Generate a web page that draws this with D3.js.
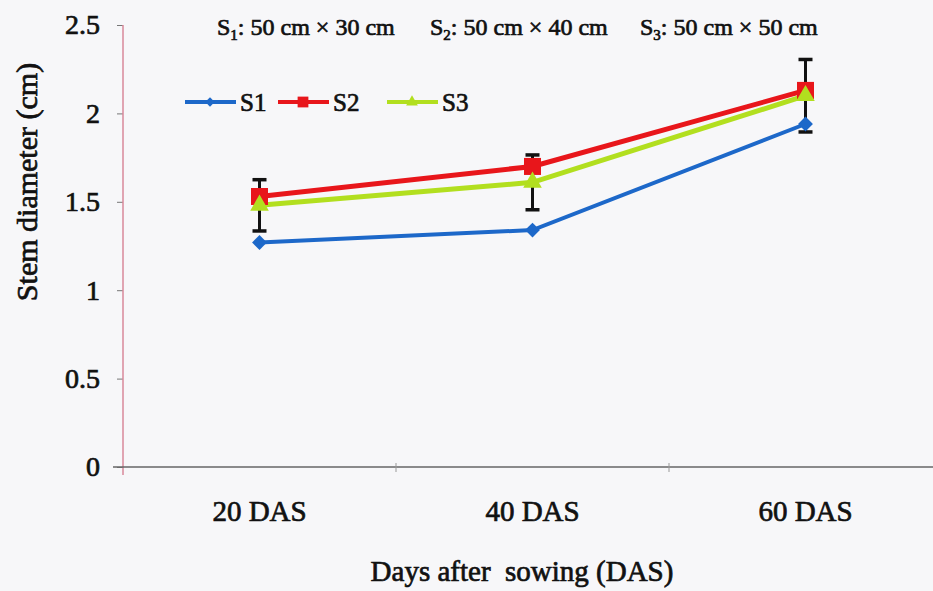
<!DOCTYPE html>
<html>
<head>
<meta charset="utf-8">
<script src="https://cdn.jsdelivr.net/npm/d3@7"></script>
<style>
  body { margin: 0; background: #f7f7f9; }
  svg { display: block; }
</style>
</head>
<body>
<div id="container"></div>
<script>
/* DATA */
const days = ["20 DAS", "40 DAS", "60 DAS"];
const s1 = [1.27, 1.34, 1.94];
const s2 = [1.53, 1.70, 2.13];
const s3 = [1.48, 1.61, 2.10];
const s3Err = [0.145, 0.155, 0.205];
const yTicks = [0, 0.5, 1, 1.5, 2, 2.5];

const width = 933;
const height = 591;
const serif = "'Liberation Serif', serif";

// heavy scanned look: regular serif with a thin outline
function heavy(sel, size) {
  sel.attr("font-family", serif)
    .attr("fill", "#111")
    .attr("stroke", "#111")
    .attr("stroke-width", 0.7)
    .style("font-size", size + "px");
}

// diamond = square turned 45deg, like the spreadsheet marker
const series = [
  { key: "S1", values: s1, color: "#1d68c9", shape: d3.symbolSquare, rot: 45, size: 110, lw: 4 },
  { key: "S2", values: s2, color: "#e8161b", shape: d3.symbolSquare, rot: 0, size: 290, lw: 5 },
  { key: "S3", values: s3, color: "#b2df1f", shape: d3.symbolTriangle, rot: 0, size: 150, lw: 5 }
];

const svg = d3.select("#container")
  .append("svg")
    .attr("width", width)
    .attr("height", height)
    .attr("font-family", serif);

const xScale = d3.scaleBand()
  .domain(days)
  .range([123, 942])
  .padding(0);

const yScale = d3.scaleLinear()
  .domain([0, 2.5])
  .range([467, 25]);

const cx = d => xScale(d) + xScale.bandwidth() / 2;

// y axis
const yAxis = d3.axisLeft(yScale)
  .tickValues(yTicks)
  .tickFormat(d => d)
  .tickSize(6)
  .tickPadding(17);

const yAxisGroup = svg.append("g")
  .attr("transform", "translate(123,0)")
  .call(yAxis)
  .attr("font-family", serif);
yAxisGroup.select(".domain").remove();
yAxisGroup.selectAll(".tick line").attr("stroke", "#777");
yAxisGroup.selectAll("text").call(heavy, 28);

svg.append("line")
  .attr("x1", 123).attr("x2", 123)
  .attr("y1", yScale(2.5)).attr("y2", yScale(0) + 8)
  .attr("stroke", "#d9899a")
  .attr("stroke-width", 1.5);

// x axis
const xAxis = d3.axisBottom(xScale)
  .tickSize(0)
  .tickPadding(33);

const xAxisGroup = svg.append("g")
  .attr("transform", `translate(0,${yScale(0)})`)
  .call(xAxis)
  .attr("font-family", serif);
xAxisGroup.select(".domain").remove();
xAxisGroup.selectAll("text").call(heavy, 29);

svg.append("line")
  .attr("x1", 113).attr("x2", width)
  .attr("y1", yScale(0)).attr("y2", yScale(0))
  .attr("stroke", "#666")
  .attr("stroke-width", 1.5);

// category boundary ticks
svg.selectAll("line.xtick")
  .data(days.slice(1))
  .join("line")
  .attr("class", "xtick")
  .attr("x1", d => xScale(d)).attr("x2", d => xScale(d))
  .attr("y1", yScale(0) - 4).attr("y2", yScale(0) + 5)
  .attr("stroke", "#999");

// lines
const line = d3.line()
  .x((d, i) => cx(days[i]))
  .y(d => yScale(d));

svg.selectAll("path.series")
  .data(series)
  .join("path")
  .attr("class", "series")
  .attr("d", d => line(d.values))
  .attr("fill", "none")
  .attr("stroke", d => d.color)
  .attr("stroke-width", d => d.lw);

// error bars (on S3)
const err = svg.append("g");
days.forEach((day, i) => {
  const x = cx(day);
  const top = yScale(s3[i] + s3Err[i]);
  const bot = yScale(s3[i] - s3Err[i]);
  err.append("line").attr("x1", x).attr("x2", x).attr("y1", top).attr("y2", bot)
    .attr("stroke", "#111").attr("stroke-width", 3);
  err.append("line").attr("x1", x - 7).attr("x2", x + 7).attr("y1", top).attr("y2", top)
    .attr("stroke", "#111").attr("stroke-width", 3.5);
  err.append("line").attr("x1", x - 7).attr("x2", x + 7).attr("y1", bot).attr("y2", bot)
    .attr("stroke", "#111").attr("stroke-width", 3.5);
});

// markers
series.forEach(s => {
  svg.selectAll(null)
    .data(s.values)
    .join("path")
    .attr("d", d3.symbol().type(s.shape).size(s.size))
    .attr("transform", (d, i) => `translate(${cx(days[i])},${yScale(d)}) rotate(${s.rot})`)
    .attr("fill", s.color);
});

// legend
const legendX = [185, 278, 387];
const legend = svg.selectAll("g.legend")
  .data(series)
  .join("g")
  .attr("class", "legend")
  .attr("transform", (d, i) => `translate(${legendX[i]},102)`);
legend.append("line")
  .attr("x1", 0).attr("x2", 51)
  .attr("stroke", d => d.color)
  .attr("stroke-width", 4);
legend.append("path")
  .attr("d", d => d3.symbol().type(d.shape).size(d.size * 0.4)())
  .attr("transform", d => `translate(25,0) rotate(${d.rot})`)
  .attr("fill", d => d.color);
legend.append("text")
  .attr("x", 55)
  .attr("y", 9)
  .call(heavy, 25)
  .text(d => d.key);

// spacing note
const spacing = [
  { sub: "1", text: ": 50 cm × 30 cm", x: 217 },
  { sub: "2", text: ": 50 cm × 40 cm", x: 430 },
  { sub: "3", text: ": 50 cm × 50 cm", x: 640 }
];
const note = svg.selectAll("text.note")
  .data(spacing)
  .join("text")
  .attr("class", "note")
  .attr("x", d => d.x)
  .attr("y", 35)
  .call(heavy, 24);
note.append("tspan").text("S");
note.append("tspan").attr("dy", 5).style("font-size", "15px").text(d => d.sub);
note.append("tspan").attr("dy", -5).text(d => d.text);

// axis titles
svg.append("text")
  .attr("transform", "translate(37,182) rotate(-90)")
  .attr("text-anchor", "middle")
  .call(heavy, 30)
  .text("Stem diameter (cm)");

svg.append("text")
  .attr("x", 522)
  .attr("y", 581)
  .attr("text-anchor", "middle")
  .call(heavy, 29)
  .style("white-space", "pre")
  .text("Days after  sowing (DAS)");
</script>
</body>
</html>
